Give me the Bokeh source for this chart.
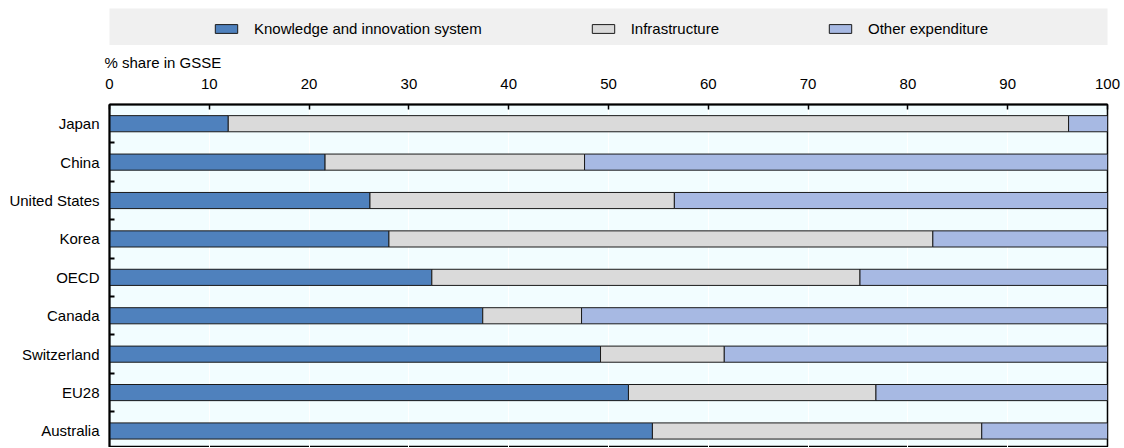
from bokeh.plotting import figure
from bokeh.models import (ColumnDataSource, Range1d, FixedTicker, Legend, LegendItem)
from bokeh.layouts import column
from bokeh.embed import file_html
from bokeh.resources import INLINE

countries = ["Japan", "China", "United States", "Korea", "OECD", "Canada",
             "Switzerland", "EU28", "Australia"]
knowledge = [11.9, 21.6, 26.1, 28.0, 32.3, 37.4, 49.2, 52.0, 54.4]
infrastructure = [84.2, 26.0, 30.5, 54.5, 42.9, 9.9, 12.4, 24.8, 33.0]
other = [3.9, 52.4, 43.4, 17.5, 24.8, 52.7, 38.4, 23.2, 12.6]
series_names = ["Knowledge and innovation system", "Infrastructure", "Other expenditure"]
x_ticks = [0, 10, 20, 30, 40, 50, 60, 70, 80, 90, 100]
axis_title = "% share in GSSE"

colors = ["#4F81BD", "#DADADA", "#A7B9E3"]
FONT = "Liberation Sans"
FS = "15px"
W = 1122

src = ColumnDataSource(dict(y=list(range(len(countries))), k=knowledge,
                            i=infrastructure, o=other))

# ---------- legend strip ----------
leg = figure(width=W, height=45, x_range=Range1d(0, 100), y_range=Range1d(-20, -19),
             x_axis_type=None, y_axis_type=None, output_backend="svg",
             toolbar_location=None, min_border_left=108, min_border_right=15,
             min_border_top=8, min_border_bottom=0)
leg.background_fill_color = "#F0F0F0"
leg.border_fill_color = "white"
leg.outline_line_color = None
leg.xgrid.visible = False
leg.ygrid.visible = False
leg_renderers = leg.hbar_stack(["k", "i", "o"], y="y", height=0.42, source=src,
                               fill_color=colors, line_color="#1a1a1a", line_width=1)
for r in leg_renderers:
    r.visible = False
items = [LegendItem(label=name, renderers=[r]) for name, r in zip(series_names, leg_renderers)]
legend = Legend(items=items, orientation="horizontal", location=(103, 8),
                glyph_width=28, glyph_height=11, label_standoff=14, spacing=107,
                padding=0, margin=0, background_fill_alpha=0, border_line_color=None,
                inactive_fill_alpha=0,
                label_text_font=FONT, label_text_font_size=FS, label_text_color="black")
leg.add_layout(legend, "center")

# ---------- main chart ----------
p = figure(width=W, height=402, x_range=Range1d(0, 100), y_range=Range1d(8.43, -0.5),
           x_axis_location="above", output_backend="svg", toolbar_location=None,
           min_border_left=109, min_border_right=15, min_border_top=59,
           min_border_bottom=0)
p.background_fill_color = "#F2FDFF"
p.border_fill_color = "white"
p.outline_line_color = "black"
p.outline_line_width = 1.5

p.hbar_stack(["k", "i", "o"], y="y", height=0.42, source=src,
             fill_color=colors, line_color="#1a1a1a", line_width=1)

xa = p.xaxis[0]
xa.ticker = FixedTicker(ticks=x_ticks)
xa.major_tick_in = 5
xa.major_tick_out = 0
xa.minor_tick_line_color = None
xa.axis_line_color = "black"
xa.axis_line_width = 2
xa.major_tick_line_width = 1.5
xa.major_label_standoff = 16
xa.major_label_text_font = FONT
xa.major_label_text_font_size = FS
xa.major_label_text_color = "black"

ya = p.yaxis[0]
ya.ticker = FixedTicker(ticks=list(range(len(countries))),
                        minor_ticks=[i + 0.5 for i in range(len(countries) - 1)])
ya.major_label_overrides = {i: c for i, c in enumerate(countries)}
ya.major_tick_in = 0
ya.major_tick_out = 0
ya.minor_tick_in = 5
ya.minor_tick_out = 0
ya.minor_tick_line_color = "black"
ya.minor_tick_line_width = 2
ya.axis_line_color = "black"
ya.axis_line_width = 2
ya.major_label_standoff = 10
ya.major_label_text_font = FONT
ya.major_label_text_font_size = FS
ya.major_label_text_color = "black"

p.xgrid.ticker = FixedTicker(ticks=x_ticks)
p.xgrid.grid_line_color = "white"
p.xgrid.grid_line_width = 1
p.ygrid.visible = False

p.title.text = axis_title
p.title.align = "left"
p.title.offset = -5
p.title.text_font = FONT
p.title.text_font_size = FS
p.title.text_font_style = "normal"
p.title.text_color = "black"
p.title.standoff = 9

layout = column(leg, p, spacing=0)
open("out.html", "w").write(file_html(layout, INLINE))
